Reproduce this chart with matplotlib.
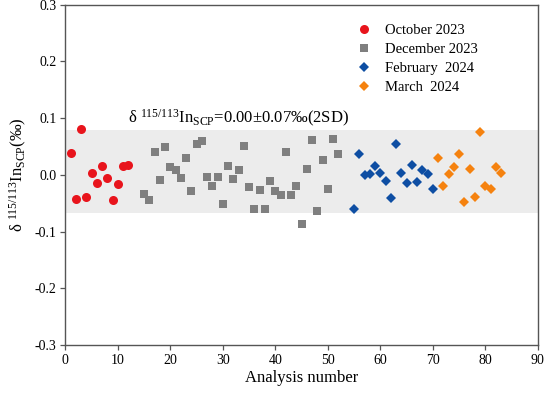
import matplotlib
matplotlib.use("Agg")
import matplotlib.pyplot as plt
from matplotlib.lines import Line2D

plt.rcParams['font.family'] = ['Liberation Serif', 'DejaVu Serif']
plt.rcParams['mathtext.fontset'] = 'custom'
plt.rcParams['mathtext.rm'] = 'Liberation Serif'
plt.rcParams['mathtext.it'] = 'Liberation Serif:italic'
plt.rcParams['mathtext.bf'] = 'Liberation Serif:bold'

# ---- data ----
oct_x = [1, 2, 3, 4, 5, 6, 7, 8, 9, 10, 11, 12]
oct_y = [0.039, -0.042, 0.080, -0.039, 0.003, -0.014, 0.016, -0.005, -0.044, -0.016, 0.016, 0.017]

dec_x = list(range(15, 53))
dec_y = [-0.034, -0.044, 0.041, -0.009, 0.049, 0.014, 0.008, -0.006, 0.029, -0.029,
         0.055, 0.060, -0.003, -0.019, -0.003, -0.052, 0.015, -0.008, 0.008, 0.051,
         -0.022, -0.060, -0.026, -0.060, -0.011, -0.029, -0.036, 0.041, -0.035, -0.019,
         -0.086, 0.010, 0.061, -0.064, 0.026, -0.025, 0.064, 0.036]

feb_x = list(range(55, 71))
feb_y = [-0.061, 0.036, 0.000, 0.001, 0.016, 0.004, -0.011, -0.041, 0.055, 0.004,
         -0.014, 0.018, -0.013, 0.009, 0.001, -0.025]

mar_x = list(range(71, 84))
mar_y = [0.030, -0.019, 0.001, 0.013, 0.036, -0.048, 0.010, -0.039, 0.075, -0.020,
         -0.025, 0.014, 0.004]

band_low, band_high = -0.068, 0.079
x_ticks = list(range(0, 91, 10))
y_ticks = [-0.3, -0.2, -0.1, 0.0, 0.1, 0.2, 0.3]
y_tick_labels = ["-0.3", "-0.2", "-0.1", "0.0", "0.1", "0.2", "0.3"]

# ---- figure ----
fig = plt.figure(figsize=(5.45, 3.96), dpi=100)
ax = fig.add_axes([0.120, 0.129, 0.867, 0.859])

ax.axhspan(band_low, band_high, color='#ececec', zorder=0, lw=0)

c_oct, c_dec, c_feb, c_mar = '#e8141c', '#7f7f7f', '#0e4ea3', '#f5820f'
ax.plot(oct_x, oct_y, 'o', color=c_oct, ms=6.5, mew=0, zorder=3)
ax.plot(dec_x, dec_y, 's', color=c_dec, ms=5.3, mew=0, zorder=3)
ax.plot(feb_x, feb_y, 'D', color=c_feb, ms=5.0, mew=0, zorder=3)
ax.plot(mar_x, mar_y, 'D', color=c_mar, ms=5.0, mew=0, zorder=3)

ax.set_xlim(0, 90)
ax.set_ylim(-0.3, 0.3)
ax.set_xticks(x_ticks)
ax.set_yticks(y_ticks)
ax.set_yticklabels(y_tick_labels)
ax.tick_params(direction='out', length=3.5, width=0.9, color='#555555',
               labelsize=10, pad=3)
for s in ax.spines.values():
    s.set_color('#555555')
    s.set_linewidth(1.0)

ax.set_xlabel('Analysis number', fontsize=12, labelpad=2)
ax.set_ylabel(r'δ $^{115/113}$In$_{\mathrm{SCP}}$(‰)', fontsize=12, labelpad=4)

ax.text(11.9, 0.091, r'δ $^{115/113}$In$_{\mathrm{SCP}}$=0.00±0.07‰(2SD)',
        fontsize=12, ha='left', va='baseline')

handles = [
    Line2D([], [], marker='o', ls='', color=c_oct, ms=6.5, mew=0),
    Line2D([], [], marker='s', ls='', color=c_dec, ms=5.3, mew=0),
    Line2D([], [], marker='D', ls='', color=c_feb, ms=5.0, mew=0),
    Line2D([], [], marker='D', ls='', color=c_mar, ms=5.0, mew=0),
]
labels = ['October 2023', 'December 2023', 'February  2024', 'March  2024']
ax.legend(handles, labels, loc='upper left', bbox_to_anchor=(0.602, 0.96),
          frameon=False, fontsize=10.5, handlelength=1.2, handletextpad=0.8,
          labelspacing=0.38, borderaxespad=0)

fig.savefig('out.png', dpi=100)
